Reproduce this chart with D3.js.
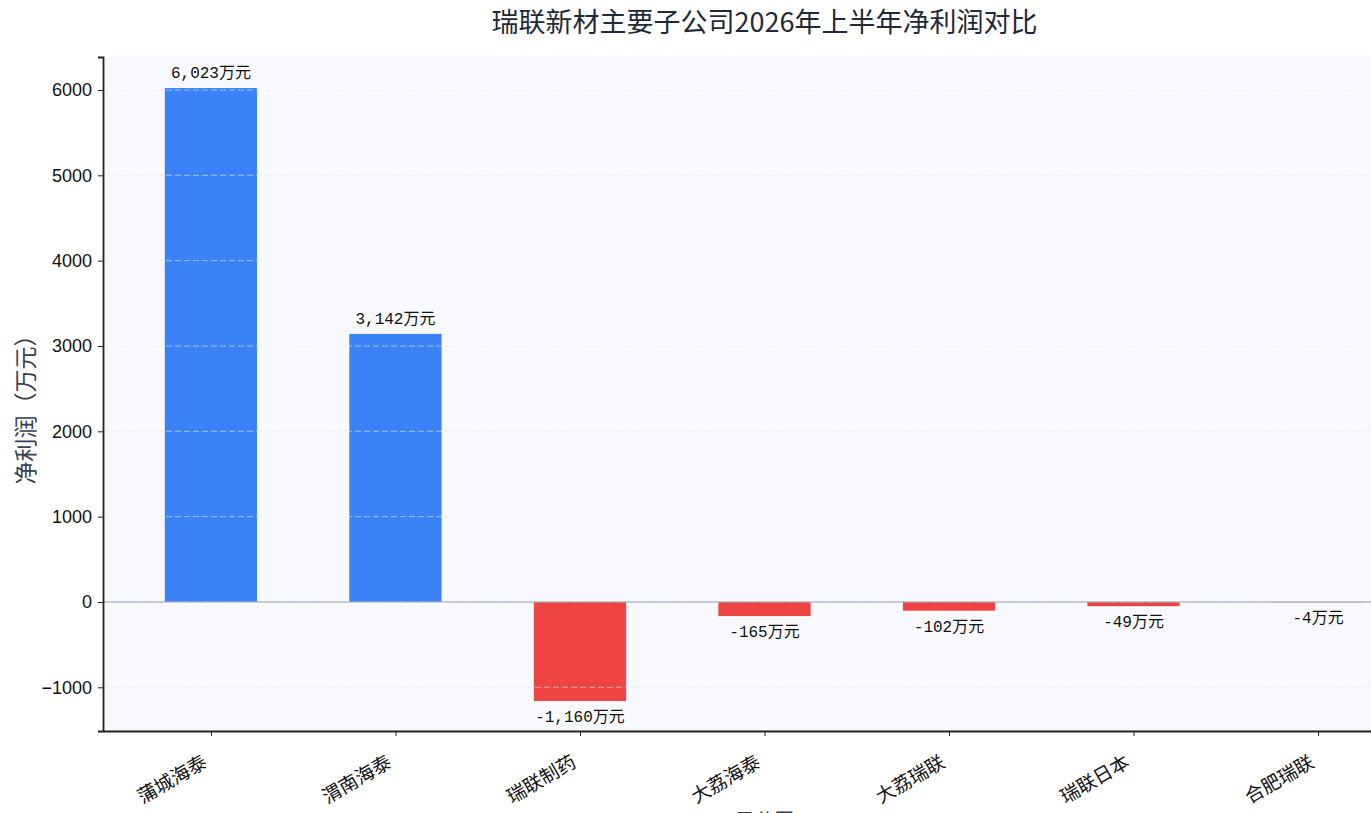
<!DOCTYPE html>
<html>
<head>
<meta charset="utf-8">
<script src="https://cdn.jsdelivr.net/npm/d3@7"></script>
<style>
  body { margin: 0; background: #fff; }
  text { font-family: "Noto Sans CJK SC", "Noto Sans", sans-serif; }
</style>
</head>
<body>
<div id="chart"></div>
<script>
// Data
const companies = ["蒲城海泰", "渭南海泰", "瑞联制药", "大荔海泰", "大荔瑞联", "瑞联日本", "合肥瑞联"];
const netProfit = [6023, 3142, -1160, -165, -102, -49, -4];
const yTicks = [-1000, 0, 1000, 2000, 3000, 4000, 5000, 6000];

// Dimensions
const width = 1371, height = 813;
const margin = { top: 57, left: 103, bottom: 82 };
const plotRight = 1426; // right spine sits just outside the window

const svg = d3.select("#chart").append("svg")
  .attr("width", width).attr("height", height);

// Scales
const x = d3.scaleLinear()
  .domain([-0.585, companies.length - 1 + 0.585])
  .range([margin.left, plotRight]);
const y = d3.scaleLinear()
  .domain([-1512, 6387])
  .range([height - margin.bottom, margin.top]);
const barW = x(0.25) - x(-0.25);

// Plot background
svg.append("rect")
  .attr("x", margin.left).attr("y", margin.top)
  .attr("width", plotRight - margin.left)
  .attr("height", y.range()[0] - margin.top)
  .attr("fill", "#f8f9fd");

// Bars
svg.append("g").selectAll("rect")
  .data(netProfit)
  .join("rect")
  .attr("x", (d, i) => x(i) - barW / 2)
  .attr("y", d => y(Math.max(0, d)))
  .attr("width", barW)
  .attr("height", d => Math.abs(y(d) - y(0)))
  .attr("fill", d => d >= 0 ? "#3b82f6" : "#ef4444");

// Grid (drawn over bars, faint dashes)
svg.append("g").selectAll("line")
  .data(yTicks)
  .join("line")
  .attr("x1", margin.left).attr("x2", plotRight)
  .attr("y1", d => y(d)).attr("y2", d => y(d))
  .attr("stroke", "#e2e8f0")
  .attr("stroke-opacity", 0.6)
  .attr("stroke-dasharray", "6,3");

// Zero line
svg.append("line")
  .attr("x1", margin.left).attr("x2", plotRight)
  .attr("y1", y(0)).attr("y2", y(0))
  .attr("stroke", "#94a3b8").attr("stroke-width", 1);

// Value labels
const fmt = d3.format(",");
svg.append("g").selectAll("text")
  .data(netProfit)
  .join("text")
  .attr("x", (d, i) => x(i))
  .attr("y", d => d >= 0 ? y(d) - 10 : y(d) + 21)
  .attr("text-anchor", "middle")
  .attr("font-size", 16)
  .attr("fill", "#111")
  .style("font-family", "'Liberation Mono', 'Noto Sans CJK SC', monospace")
  .text(d => (d < 0 ? "-" + fmt(-d) : fmt(d)) + "万元");

// Axes
const yAxis = d3.axisLeft(y).tickValues(yTicks).tickSize(5).tickPadding(6).tickFormat(d => d < 0 ? "−" + (-d) : d);
const yAxisGroup = svg.append("g")
  .attr("transform", `translate(${margin.left},0)`)
  .call(yAxis);
yAxisGroup.select(".domain").attr("stroke", "#222").attr("stroke-width", 1.8);
yAxisGroup.selectAll(".tick line").attr("stroke", "#222");
yAxisGroup.selectAll(".tick text").attr("font-size", 18).attr("fill", "#111")
  .style("font-family", "'Liberation Sans', Arial, sans-serif");

const xAxis = d3.axisBottom(x).tickValues(d3.range(companies.length))
  .tickFormat(i => companies[i]).tickSize(5).tickSizeOuter(0);
const xAxisGroup = svg.append("g")
  .attr("transform", `translate(0,${y.range()[0]})`)
  .call(xAxis);
xAxisGroup.select(".domain").attr("stroke", "#222").attr("stroke-width", 1.8);
xAxisGroup.selectAll(".tick line").attr("stroke", "#222");
xAxisGroup.selectAll(".tick text")
  .attr("font-size", 19).attr("fill", "#111")
  .attr("text-anchor", "end")
  .attr("dy", null)
  .attr("y", 0)
  .attr("transform", "translate(-3,35) rotate(-30)");

// Axis titles
svg.append("text")
  .attr("transform", "translate(34,404) rotate(-90)")
  .attr("text-anchor", "middle")
  .attr("font-size", 23)
  .attr("fill", "#374151")
  .text("净利润（万元）");

// x-axis title: sits mostly below the window, as in the reference
svg.append("text")
  .attr("x", (margin.left + plotRight) / 2)
  .attr("y", 828)
  .attr("text-anchor", "middle")
  .attr("font-size", 20)
  .attr("fill", "#374151")
  .text("子公司");

// Title
svg.append("text")
  .attr("x", (margin.left + plotRight) / 2)
  .attr("y", 32)
  .attr("text-anchor", "middle")
  .attr("font-size", 27)
  .attr("fill", "#1f2937")
  .text("瑞联新材主要子公司2026年上半年净利润对比");
</script>
</body>
</html>
